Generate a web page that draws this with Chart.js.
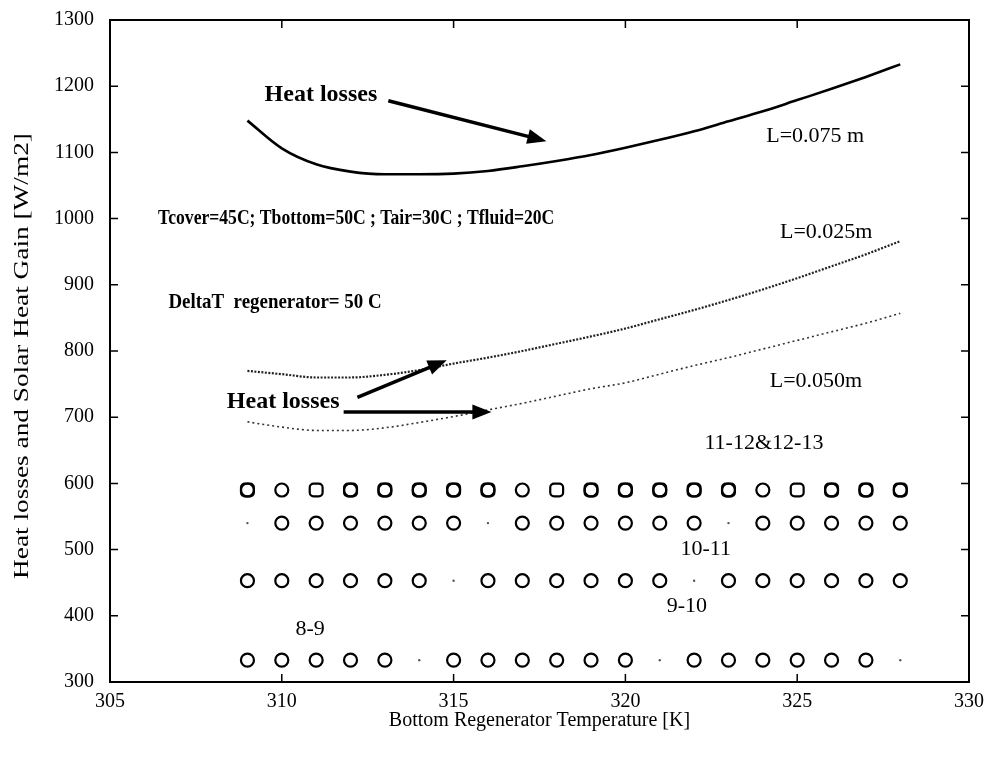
<!DOCTYPE html>
<html>
<head>
<meta charset="utf-8">
<script src="https://cdn.jsdelivr.net/npm/chart.js@4.4.0/dist/chart.umd.min.js"></script>
<style>
  body { margin: 0; background: #fff; }
  #wrap { width: 987px; height: 757px; }
</style>
</head>
<body>
<div id="wrap"><canvas id="myChart" width="987" height="757"></canvas></div>
<script>
// temperatures [K]
const temps = [309, 310, 311, 312, 313, 314, 315, 316, 317, 318, 319, 320, 321, 322, 323, 324, 325, 326, 327, 328];

// heat loss curves [W/m2]
const loss075 = [1148, 1106, 1082, 1071, 1067, 1067, 1068, 1072, 1079, 1087, 1096, 1107, 1119, 1132, 1147, 1162, 1179, 1196, 1214, 1233];
const loss025 = [770, 765, 760, 760, 764, 771, 781, 790, 800, 811, 822, 834, 848, 862, 877, 893, 910, 928, 946, 966];
const loss050 = [693, 685, 680, 680, 684, 692, 701, 711, 721, 732, 743, 752, 765, 778, 790, 803, 816, 829, 842, 857];

// solar heat gain markers
const gain1112circ = [309, 310, 312, 313, 314, 315, 316, 317, 319, 320, 321, 322, 323, 324, 326, 327, 328];
const gain1112sq = [309, 311, 312, 313, 314, 315, 316, 318, 319, 320, 321, 322, 323, 325, 326, 327, 328];
const gain1112 = 590;
const gain1011x = [310, 311, 312, 313, 314, 315, 317, 318, 319, 320, 321, 322, 324, 325, 326, 327, 328];
const gain1011 = 540;
const gain910x = [309, 310, 311, 312, 313, 314, 316, 317, 318, 319, 320, 321, 323, 324, 325, 326, 327, 328];
const gain910 = 453;
const gain89x = [309, 310, 311, 312, 313, 315, 316, 317, 318, 319, 320, 322, 323, 324, 325, 326, 327];
const gain89 = 333;
// faint specks where a marker is missing
const specks = [[309, 540], [316, 540], [323, 540], [315, 453], [322, 453], [314, 333], [321, 333], [328, 333]];

// axis ticks
const xTicks = [305, 310, 315, 320, 325, 330];
const yTicks = [300, 400, 500, 600, 700, 800, 900, 1000, 1100, 1200, 1300];

// text notes: [text, x, y, kind]
const notes = [
  ['Heat losses', 309.5, 1187, 'arrowLabel'],
  ['L=0.075 m', 324.1, 1125, 'label'],
  ['Tcover=45C; Tbottom=50C ; Tair=30C ; Tfluid=20C', 306.4, 1001, 'cond'],
  ['L=0.025m', 324.5, 979, 'label'],
  ['DeltaT  regenerator= 50 C', 306.7, 874, 'cond2'],
  ['L=0.050m', 324.2, 755, 'label'],
  ['Heat losses', 308.4, 724, 'arrowLabel'],
  ['11-12&12-13', 322.3, 660, 'label'],
  ['10-11', 321.6, 500, 'label'],
  ['9-10', 321.2, 414, 'label'],
  ['8-9', 310.4, 380, 'label'],
];

// arrows: [x1, y1, x2, y2]
const arrows = [
  [313.1, 1178, 317.7, 1117],
  [312.2, 730, 314.8, 786],
  [311.8, 708, 316.1, 708],
];

const serif = '"Liberation Serif", "Times New Roman", serif';
const noteStyle = {
  label: { font: '22px ' + serif, sx: 1 },
  arrowLabel: { font: 'bold 24px ' + serif, sx: 1 },
  cond: { font: 'bold 22px ' + serif, sx: 0.8 },
  cond2: { font: 'bold 22px ' + serif, sx: 0.86 },
};

const pts = (xs, y) => xs.map((x) => ({ x: x, y: y }));
const curve = (ys) => temps.map((t, i) => ({ x: t, y: ys[i] }));

const decorPlugin = {
  id: 'decor',
  afterDraw(chart) {
    const { ctx, chartArea: a, scales: { x, y } } = chart;
    ctx.save();
    // frame
    ctx.strokeStyle = '#000';
    ctx.lineWidth = 2;
    ctx.strokeRect(a.left, a.top, a.right - a.left, a.bottom - a.top);
    // inward tick marks
    ctx.lineWidth = 1.5;
    xTicks.slice(1, -1).forEach((v) => {
      const px = x.getPixelForValue(v);
      ctx.beginPath();
      ctx.moveTo(px, a.bottom); ctx.lineTo(px, a.bottom - 8);
      ctx.moveTo(px, a.top); ctx.lineTo(px, a.top + 8);
      ctx.stroke();
    });
    yTicks.slice(1, -1).forEach((v) => {
      const py = y.getPixelForValue(v);
      ctx.beginPath();
      ctx.moveTo(a.left, py); ctx.lineTo(a.left + 8, py);
      ctx.moveTo(a.right, py); ctx.lineTo(a.right - 8, py);
      ctx.stroke();
    });
    // arrows
    ctx.fillStyle = '#000';
    arrows.forEach(([x1, y1, x2, y2]) => {
      const p1 = [x.getPixelForValue(x1), y.getPixelForValue(y1)];
      const p2 = [x.getPixelForValue(x2), y.getPixelForValue(y2)];
      const ang = Math.atan2(p2[1] - p1[1], p2[0] - p1[0]);
      ctx.lineWidth = 3.5;
      ctx.beginPath();
      ctx.moveTo(p1[0], p1[1]);
      ctx.lineTo(p2[0] - 12 * Math.cos(ang), p2[1] - 12 * Math.sin(ang));
      ctx.stroke();
      ctx.beginPath();
      ctx.moveTo(p2[0], p2[1]);
      ctx.lineTo(p2[0] - 19 * Math.cos(ang) + 7.5 * Math.sin(ang), p2[1] - 19 * Math.sin(ang) - 7.5 * Math.cos(ang));
      ctx.lineTo(p2[0] - 19 * Math.cos(ang) - 7.5 * Math.sin(ang), p2[1] - 19 * Math.sin(ang) + 7.5 * Math.cos(ang));
      ctx.closePath();
      ctx.fill();
    });
    // notes
    ctx.textAlign = 'left';
    ctx.textBaseline = 'middle';
    notes.forEach(([t, nx, ny, kind]) => {
      const st = noteStyle[kind];
      ctx.save();
      ctx.font = st.font;
      ctx.translate(x.getPixelForValue(nx), y.getPixelForValue(ny));
      ctx.scale(st.sx, 1);
      ctx.fillText(t, 0, 0);
      ctx.restore();
    });
    // y axis title, stretched along its length like the scanned original
    ctx.save();
    ctx.font = '21px ' + serif;
    ctx.textAlign = 'center';
    ctx.textBaseline = 'middle';
    ctx.translate(22, (a.top + a.bottom) / 2 + 5);
    ctx.rotate(-Math.PI / 2);
    ctx.scale(1.3, 1);
    ctx.fillText('Heat losses and Solar Heat Gain [W/m2]', 0, 0);
    ctx.restore();
    ctx.restore();
  },
};

const marker = (data, style, r) => ({
  type: 'scatter',
  data: data,
  pointStyle: style,
  pointRadius: r,
  pointBorderWidth: 2.2,
  pointBorderColor: '#000',
  pointBackgroundColor: 'rgba(0,0,0,0)',
  showLine: false,
});

const ctx = document.getElementById('myChart').getContext('2d');
new Chart(ctx, {
  type: 'scatter',
  data: {
    datasets: [
      { type: 'line', label: 'L=0.075 m', data: curve(loss075), borderColor: '#000', borderWidth: 2.6, pointRadius: 0, cubicInterpolationMode: 'monotone' },
      { type: 'line', label: 'L=0.025m', data: curve(loss025), borderColor: '#222', borderWidth: 2.2, borderDash: [2, 1.5], pointRadius: 0, cubicInterpolationMode: 'monotone' },
      { type: 'line', label: 'L=0.050m', data: curve(loss050), borderColor: '#333', borderWidth: 1.6, borderDash: [2, 3], pointRadius: 0, cubicInterpolationMode: 'monotone' },
      marker(pts(gain1112circ, gain1112), 'circle', 6.5),
      marker(pts(gain1112sq, gain1112), 'rectRounded', 7.5),
      marker(pts(gain1011x, gain1011), 'circle', 6.5),
      marker(pts(gain910x, gain910), 'circle', 6.5),
      marker(pts(gain89x, gain89), 'circle', 6.5),
      { type: 'scatter', data: specks.map(([sx, sy]) => ({ x: sx, y: sy })), pointStyle: 'circle', pointRadius: 1.2, pointBorderWidth: 0, pointBackgroundColor: '#555' },
    ],
  },
  options: {
    responsive: false,
    animation: false,
    layout: { padding: { left: 8, top: 17, right: 18, bottom: 20 } },
    plugins: { legend: { display: false }, tooltip: { enabled: false } },
    scales: {
      x: {
        type: 'linear',
        min: 305, max: 330,
        afterBuildTicks: (s) => { s.ticks = xTicks.map((v) => ({ value: v })); },
        afterFit: (s) => { s.height = 55; },
        grid: { display: false },
        border: { display: false },
        ticks: { color: '#000', font: { family: serif, size: 20 }, padding: 0, callback: (v) => String(v) },
        title: { display: true, text: 'Bottom Regenerator Temperature [K]', color: '#000', font: { family: serif, size: 20 } },
      },
      y: {
        type: 'linear',
        min: 300, max: 1300,
        afterBuildTicks: (s) => { s.ticks = yTicks.map((v) => ({ value: v })); },
        afterFit: (s) => { s.width = 102; },
        grid: { display: false },
        border: { display: false },
        ticks: { color: '#000', font: { family: serif, size: 20 }, padding: 8, callback: (v) => String(v) },
        title: { display: false },
      },
    },
  },
  plugins: [decorPlugin],
});
</script>
</body>
</html>
